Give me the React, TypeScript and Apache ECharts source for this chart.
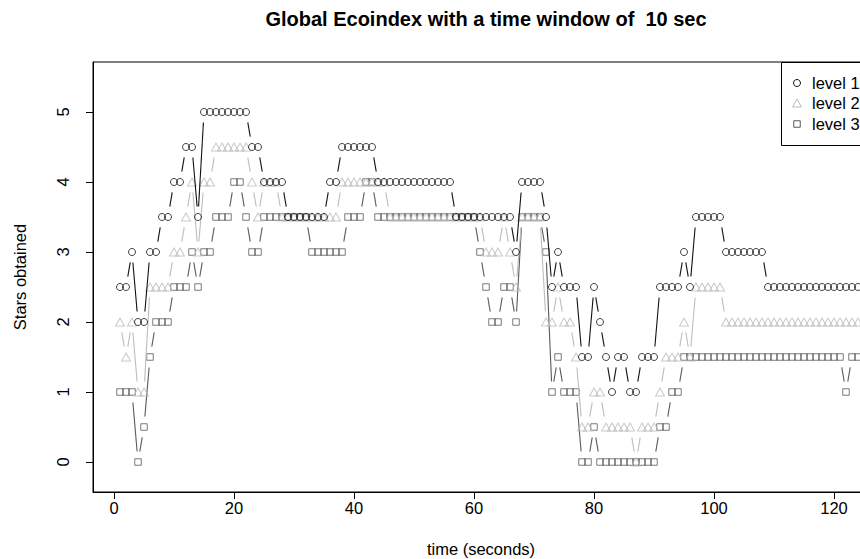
import React, { useEffect, useRef } from "react";
import * as echarts from "echarts";

// time in seconds (one sample per second)
const time: number[] = Array.from({ length: 124 }, (_, i) => i + 1);

// stars obtained
const level1: number[] = [
  2.5, 2.5, 3, 2, 2, 3, 3, 3.5, 3.5, 4,
  4, 4.5, 4.5, 3.5, 5, 5, 5, 5, 5, 5,
  5, 5, 4.5, 4.5, 4, 4, 4, 4, 3.5, 3.5,
  3.5, 3.5, 3.5, 3.5, 3.5, 4, 4, 4.5, 4.5, 4.5,
  4.5, 4.5, 4.5, 4, 4, 4, 4, 4, 4, 4,
  4, 4, 4, 4, 4, 4, 3.5, 3.5, 3.5, 3.5,
  3.5, 3.5, 3.5, 3.5, 3.5, 3.5, 3, 4, 4, 4,
  4, 3.5, 2.5, 3, 2.5, 2.5, 2.5, 1.5, 1.5, 2.5,
  2, 1.5, 1, 1.5, 1.5, 1, 1, 1.5, 1.5, 1.5,
  2.5, 2.5, 2.5, 2.5, 3, 2.5, 3.5, 3.5, 3.5, 3.5,
  3.5, 3, 3, 3, 3, 3, 3, 3, 2.5, 2.5,
  2.5, 2.5, 2.5, 2.5, 2.5, 2.5, 2.5, 2.5, 2.5, 2.5,
  2.5, 2.5, 2.5, 2.5,
];

const level2: number[] = [
  2, 1.5, 2, 1, 1, 2.5, 2.5, 2.5, 2.5, 3,
  3, 3.5, 4, 3, 4, 4, 4.5, 4.5, 4.5, 4.5,
  4.5, 4.5, 4, 3.5, 4, 4, 4, 3.5, 3.5, 3.5,
  3.5, 3.5, 3.5, 3.5, 3.5, 3.5, 3.5, 4, 4, 4,
  4, 4, 4, 4, 4, 3.5, 3.5, 3.5, 3.5, 3.5,
  3.5, 3.5, 3.5, 3.5, 3.5, 3.5, 3.5, 3.5, 3.5, 3.5,
  3.5, 3, 3, 3, 3.5, 3, 2.5, 3.5, 3.5, 3.5,
  3.5, 2, 2, 2.5, 2, 2, 1.5, 0.5, 0.5, 1,
  1, 0.5, 0.5, 0.5, 0.5, 0.5, 0, 0.5, 0.5, 0.5,
  1, 1.5, 1.5, 1.5, 2, 1.5, 2.5, 2.5, 2.5, 2.5,
  2.5, 2, 2, 2, 2, 2, 2, 2, 2, 2,
  2, 2, 2, 2, 2, 2, 2, 2, 2, 2,
  2, 2, 2, 2,
];

const level3: number[] = [
  1, 1, 1, 0, 0.5, 1.5, 2, 2, 2, 2.5,
  2.5, 2.5, 3, 2.5, 3, 3, 3.5, 3.5, 3.5, 4,
  4, 3.5, 3, 3, 3.5, 3.5, 3.5, 3.5, 3.5, 3.5,
  3.5, 3.5, 3, 3, 3, 3, 3, 3, 3.5, 3.5,
  3.5, 4, 4, 3.5, 3.5, 3.5, 3.5, 3.5, 3.5, 3.5,
  3.5, 3.5, 3.5, 3.5, 3.5, 3.5, 3.5, 3.5, 3.5, 3.5,
  3, 2.5, 2, 2, 2.5, 2.5, 2, 3.5, 3.5, 3.5,
  3.5, 3, 1, 1.5, 1, 1, 1, 0, 0, 0.5,
  0, 0, 0, 0, 0, 0, 0, 0, 0, 0,
  0.5, 0.5, 1, 1, 1.5, 1.5, 1.5, 1.5, 1.5, 1.5,
  1.5, 1.5, 1.5, 1.5, 1.5, 1.5, 1.5, 1.5, 1.5, 1.5,
  1.5, 1.5, 1.5, 1.5, 1.5, 1.5, 1.5, 1.5, 1.5, 1.5,
  1.5, 1, 1.5, 1.5,
];

const seriesNames: string[] = ["level 1", "level 2", "level 3"];
const xTicks: number[] = [0, 20, 40, 60, 80, 100, 120];
const yTicks: number[] = [0, 1, 2, 3, 4, 5];

const FONT = "'Liberation Sans', Arial, Helvetica, sans-serif";
const FS = 16.5;
const COLORS = ["#111111", "#bdbdbd", "#5a5a5a"];
const GAP = 10.5;

function segments(xs: number[], ys: number[]): number[][] {
  const out: number[][] = [];
  for (let i = 0; i < ys.length - 1; i++) {
    out.push([xs[i], ys[i], xs[i + 1], ys[i + 1]]);
  }
  return out;
}

function gapLineSeries(data: number[][], color: string, z: number) {
  return {
    type: "custom",
    silent: true,
    z,
    clip: false,
    encode: { x: [0, 2], y: [1, 3] },
    data,
    renderItem: (_params: any, api: any) => {
      const p1 = api.coord([api.value(0), api.value(1)]);
      const p2 = api.coord([api.value(2), api.value(3)]);
      const dx = p2[0] - p1[0];
      const dy = p2[1] - p1[1];
      const len = Math.sqrt(dx * dx + dy * dy);
      if (len <= 2 * GAP) return null;
      const ux = dx / len;
      const uy = dy / len;
      return {
        type: "line",
        shape: {
          x1: p1[0] + ux * GAP,
          y1: p1[1] + uy * GAP,
          x2: p2[0] - ux * GAP,
          y2: p2[1] - uy * GAP,
        },
        style: { stroke: color, lineWidth: 1.1 },
      };
    },
  };
}

export default function App() {
  const ref = useRef<HTMLDivElement>(null);

  useEffect(() => {
    if (!ref.current) return;
    const chart = echarts.init(ref.current, null, { renderer: "svg" });
    const all = [level1, level2, level3];
    const symbols = ["circle", "triangle", "rect"];
    const sizes: any[] = [7, [9, 8], 6.5];

    const series: any[] = [];
    all.forEach((vals, k) => {
      series.push(gapLineSeries(segments(time, vals), COLORS[k], 3 - k));
      series.push({
        type: "scatter",
        name: seriesNames[k],
        data: time.map((t, i) => [t, vals[i]]),
        symbol: symbols[k],
        symbolSize: sizes[k],
        silent: true,
        clip: false,
        z: 3 - k,
        itemStyle: {
          color: "rgba(0,0,0,0)",
          borderColor: COLORS[k],
          borderWidth: 1,
        },
      });
    });

    const lx = 797;
    chart.setOption({
      animation: false,
      backgroundColor: "#ffffff",
      title: {
        text: "Global Ecoindex with a time window of  10 sec",
        left: 481,
        top: 4,
        textAlign: "center",
        textStyle: {
          fontFamily: FONT,
          fontSize: 20,
          fontWeight: "bold",
          color: "#000",
        },
      },
      grid: {
        left: 93,
        top: 62,
        width: 776,
        height: 430,
        show: true,
        borderColor: "#000",
        borderWidth: 1,
        backgroundColor: "transparent",
        outerBoundsMode: "none",
      },
      xAxis: {
        type: "value",
        min: -3.5,
        max: 125 + 5 / 6,
        name: "time (seconds)",
        nameLocation: "middle",
        nameGap: 48,
        nameTextStyle: { fontFamily: FONT, fontSize: FS, color: "#000" },
        axisLine: { show: true, onZero: false, lineStyle: { color: "#000", width: 1 } },
        axisTick: {
          show: true,
          inside: false,
          length: 7,
          customValues: xTicks,
          lineStyle: { color: "#000", width: 1 },
        },
        axisLabel: {
          customValues: xTicks,
          margin: 7,
          fontFamily: FONT,
          fontSize: FS,
          color: "#000",
        },
        splitLine: { show: false },
      },
      yAxis: {
        type: "value",
        min: -30 / 70,
        max: 400 / 70,
        name: "Stars obtained",
        nameLocation: "middle",
        nameGap: 65,
        nameTextStyle: { fontFamily: FONT, fontSize: FS, color: "#000" },
        axisLine: { show: true, onZero: false, lineStyle: { color: "#000", width: 1 } },
        axisTick: {
          show: true,
          inside: false,
          length: 7,
          customValues: yTicks,
          lineStyle: { color: "#000", width: 1 },
        },
        axisLabel: {
          customValues: yTicks,
          rotate: 90,
          margin: 21.5,
          fontFamily: FONT,
          fontSize: FS,
          color: "#000",
        },
        splitLine: { show: false },
      },
      graphic: [
        {
          type: "group",
          z: 100,
          children: [
            {
              type: "rect",
              shape: { x: 781.5, y: 62.5, width: 120, height: 83 },
              style: { fill: "#fff", stroke: "#000", lineWidth: 1 },
            },
            {
              type: "circle",
              shape: { cx: lx, cy: 83, r: 3.5 },
              style: { fill: "none", stroke: COLORS[0], lineWidth: 1 },
            },
            {
              type: "polygon",
              shape: {
                points: [
                  [lx, 99],
                  [lx + 4.5, 107],
                  [lx - 4.5, 107],
                ],
              },
              style: { fill: "none", stroke: COLORS[1], lineWidth: 1 },
            },
            {
              type: "rect",
              shape: { x: lx - 3.25, y: 120.75, width: 6.5, height: 6.5 },
              style: { fill: "none", stroke: COLORS[2], lineWidth: 1 },
            },
            ...seriesNames.map((n, i) => ({
              type: "text",
              x: 812,
              y: [83, 103, 124][i],
              style: {
                text: n,
                font: `${FS}px ${FONT}`,
                fill: "#000",
                textVerticalAlign: "middle",
                verticalAlign: "middle",
              },
            })),
          ],
        },
      ],
      series,
    });
    return () => chart.dispose();
  }, []);

  return (
    <div
      ref={ref}
      style={{ position: "absolute", left: 0, top: 0, width: 860, height: 559 }}
    />
  );
}
